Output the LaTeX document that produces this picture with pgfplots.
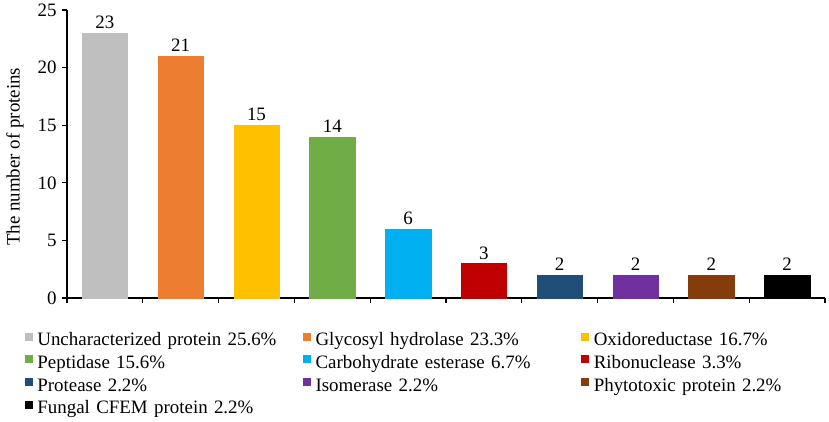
\documentclass[border=0pt]{standalone}
\usepackage{pgfplots}
\pgfplotsset{compat=1.18}
\usepackage{fontspec}
\setmainfont{Liberation Serif}
\definecolor{cGray}{HTML}{BFBFBF}
\definecolor{cOrange}{HTML}{ED7D31}
\definecolor{cYellow}{HTML}{FFC000}
\definecolor{cGreen}{HTML}{70AD47}
\definecolor{cBlue}{HTML}{00B0F0}
\definecolor{cRed}{HTML}{C00000}
\definecolor{cNavy}{HTML}{1F4E79}
\definecolor{cPurple}{HTML}{7030A0}
\definecolor{cBrown}{HTML}{843C0C}
\definecolor{cBlack}{HTML}{000000}
\newcommand{\bigf}{\fontsize{19}{22}\selectfont}
\begin{document}
\begin{tikzpicture}
\path[use as bounding box] (-67bp,-124bp) rectangle (762bp,298bp);
\begin{axis}[
  scale only axis,
  width=758bp, height=288bp,
  xmin=-0.5, xmax=9.5,
  ymin=0, ymax=25,
  ytick={0,5,...,25},
  xtick={-0.5,0.5,...,9.5},
  xticklabels={},
  axis lines=left,
  axis line style={-, line width=1.3bp},
  tick style={black, line width=1.3bp},
  tick align=outside,
  major tick length=5bp,
  clip=false,
  font=\bigf,
  ticklabel style={font=\bigf},
  yticklabel style={xshift=-2bp},
  /pgf/number format/assume math mode=true,
  ylabel={The number of proteins},
  ylabel style={font=\bigf, at={(axis description cs:-0.0686,0.49)}, anchor=center},
  ybar, bar width=0.6, bar shift=0pt,
  nodes near coords,
  every node near coord/.append style={font=\bigf, black, inner sep=4bp},
  legend columns=3,
  legend cell align=left,
  legend image code/.code={\fill[#1] (0bp,1.2bp) rectangle (7bp,8.2bp); \path[draw=none,fill=none] (0bp,1.2bp) -- (11bp,1.2bp);},
  legend style={
    at={(rel axis cs:-0.0561,-0.1135)}, anchor=north west,
    draw=none, fill=none, inner sep=0pt,
    font=\bigf,
    row sep=2.2bp,
    /tikz/every even column/.append style={text width=264bp, align=left},
    nodes={inner sep=1.5bp, text height=13.5bp, text depth=4bp},
  },
]
\addplot[fill=cGray, draw=cGray] coordinates {(0,23)};
\addplot[fill=cOrange, draw=cOrange] coordinates {(1,21)};
\addplot[fill=cYellow, draw=cYellow] coordinates {(2,15)};
\addplot[fill=cGreen, draw=cGreen] coordinates {(3,14)};
\addplot[fill=cBlue, draw=cBlue] coordinates {(4,6)};
\addplot[fill=cRed, draw=cRed] coordinates {(5,3)};
\addplot[fill=cNavy, draw=cNavy] coordinates {(6,2)};
\addplot[fill=cPurple, draw=cPurple] coordinates {(7,2)};
\addplot[fill=cBrown, draw=cBrown] coordinates {(8,2)};
\addplot[fill=cBlack, draw=cBlack] coordinates {(9,2)};
\legend{Uncharacterized protein 25.6\%, Glycosyl hydrolase 23.3\%, Oxidoreductase 16.7\%,
Peptidase 15.6\%, Carbohydrate esterase 6.7\%, Ribonuclease 3.3\%,
Protease 2.2\%, Isomerase 2.2\%, Phytotoxic protein 2.2\%,
Fungal CFEM protein 2.2\%}
\end{axis}
\end{tikzpicture}
\end{document}
